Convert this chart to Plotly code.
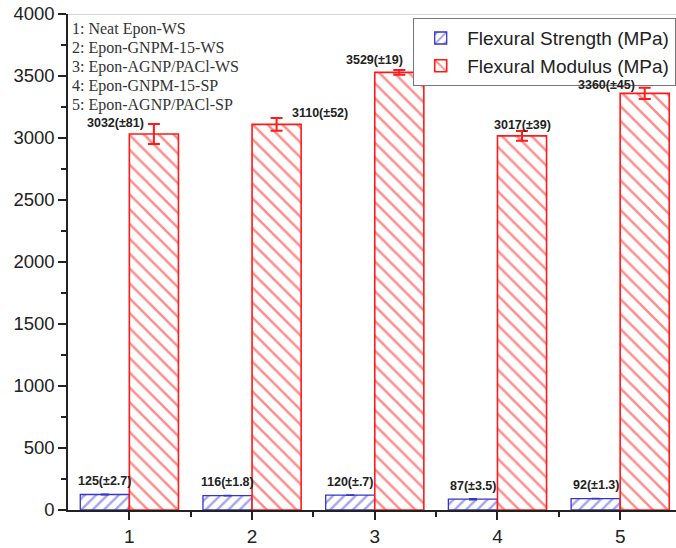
import plotly.graph_objects as go

# ---- data ----
samples = [1, 2, 3, 4, 5]
sample_names = ["Neat Epon-WS", "Epon-GNPM-15-WS", "Epon-AGNP/PACl-WS",
                "Epon-GNPM-15-SP", "Epon-AGNP/PACl-SP"]
strength = [125, 116, 120, 87, 92]
strength_err = [2.7, 1.8, 0.7, 3.5, 1.3]
modulus = [3032, 3110, 3529, 3017, 3360]
modulus_err = [81, 52, 19, 39, 45]
y_ticks = [0, 500, 1000, 1500, 2000, 2500, 3000, 3500, 4000]

# ---- styling ----
RED = "#ff1a1a"
BLUE = "#3535c8"
BLUE_HATCH = "#4848d8"
# label pixel offsets (styling) for modulus labels: (xshift, yshift)
mod_label_shift = [(-38, 1), (43, 5), (-25, 10), (0, 6), (-38, 3)]


def fmt(e):
    s = f"{e:g}"
    return s[1:] if s.startswith("0.") else s


fig = go.Figure()
fig.add_trace(go.Bar(
    x=samples, y=strength, name="Flexural Strength (MPa)", offsetgroup="a",
    marker=dict(color="white", line=dict(color=BLUE, width=1.3),
                pattern=dict(shape="/", fgcolor=BLUE_HATCH, bgcolor="white",
                             size=8, solidity=0.3)),
    error_y=dict(type="data", array=strength_err, color=BLUE, thickness=1.5, width=4),
))
fig.add_trace(go.Bar(
    x=samples, y=modulus, name="Flexural Modulus (MPa)", offsetgroup="b",
    marker=dict(color="white", line=dict(color=RED, width=1.6),
                pattern=dict(shape="\\", fgcolor=RED, bgcolor="white",
                             size=10.5, solidity=0.24)),
    error_y=dict(type="data", array=modulus_err, color=RED, thickness=2, width=6),
))

annotations = []
for i, s in enumerate(samples):
    annotations.append(dict(
        x=s - 0.2, y=strength[i] + strength_err[i], xref="x", yref="y",
        text=f"<b>{strength[i]}(±{fmt(strength_err[i])})</b>",
        showarrow=False, yanchor="bottom", yshift=4,
        font=dict(family="Arial", size=12.5, color="#222")))
    dx, dy = mod_label_shift[i]
    annotations.append(dict(
        x=s + 0.2, y=modulus[i] + modulus_err[i], xref="x", yref="y",
        text=f"<b>{modulus[i]}(±{fmt(modulus_err[i])})</b>",
        showarrow=False, yanchor="middle", xshift=dx, yshift=dy,
        font=dict(family="Arial", size=12.5, color="#222")))

for i, n in enumerate(sample_names):
    annotations.append(dict(
        x=0, y=1, xref="paper", yref="paper", xanchor="left", yanchor="top",
        xshift=2, yshift=-4 - 19 * i, text=f"{samples[i]}: {n}", showarrow=False,
        font=dict(family="Liberation Serif", size=16, color="#333")))

fig.update_layout(
    width=676, height=548,
    margin=dict(l=68, r=0, t=14, b=38),
    paper_bgcolor="white", plot_bgcolor="white",
    barmode="group", bargap=0.2, bargroupgap=0,
    font=dict(family="Arial", color="#222"),
    showlegend=True,
    legend=dict(x=1, y=0.992, xanchor="right", yanchor="top",
                bgcolor="white", bordercolor="#777", borderwidth=1.2,
                font=dict(family="Arial", size=19, color="#222"),
                tracegroupgap=0, itemwidth=43),
    annotations=annotations,
    shapes=[dict(type="line", xref="paper", yref="y", x0=0, x1=1, y0=4000, y1=4000,
                 line=dict(color="#aaa", width=1.2))],
    xaxis=dict(range=[0.5, 5.455], tickmode="array", tickvals=samples,
               ticktext=[str(s) for s in samples],
               showline=True, linecolor="#222", linewidth=1.5,
               ticks="outside", ticklen=8, tickwidth=1.5, tickcolor="#222",
               tickfont=dict(family="Arial", size=19, color="#222"),
               minor=dict(tickvals=[1.5, 2.5, 3.5, 4.5], ticks="outside",
                          ticklen=5, tickwidth=1.5, tickcolor="#222"),
               showgrid=False, zeroline=False, fixedrange=True),
    yaxis=dict(range=[0, 4000], tickmode="array", tickvals=y_ticks,
               showline=True, linecolor="#222", linewidth=1.5,
               ticks="outside", ticklen=8, tickwidth=1.5, tickcolor="#222",
               tickfont=dict(family="Arial", size=18.5, color="#222"),
               minor=dict(dtick=250, tick0=0, ticks="outside",
                          ticklen=5, tickwidth=1.5, tickcolor="#222"),
               showgrid=False, zeroline=False),
)

fig.write_html("out.html", config={"displayModeBar": False},
               post_script="document.body.style.margin='0';document.body.style.overflow='hidden';")
